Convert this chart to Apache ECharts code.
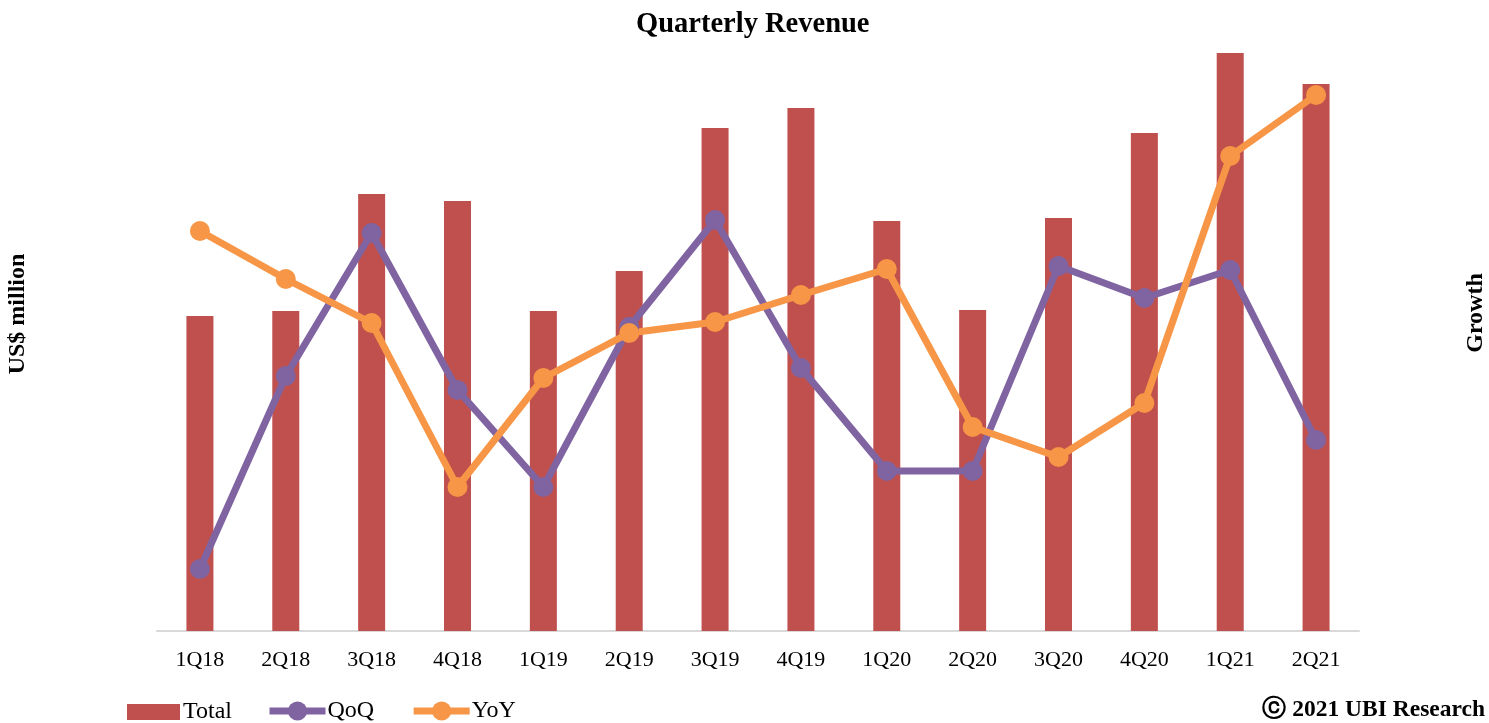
<!DOCTYPE html>
<html><head><meta charset="utf-8">
<script src="https://cdn.jsdelivr.net/npm/echarts@6/dist/echarts.min.js"></script>
<style>html,body{margin:0;padding:0;background:#fff}#c{width:1489px;height:723px}</style>
</head><body><div id="c"></div>
<script>
const categories = ['1Q18','2Q18','3Q18','4Q18','1Q19','2Q19','3Q19','4Q19','1Q20','2Q20','3Q20','4Q20','1Q21','2Q21'];
const totalValues = [315, 320, 437, 430, 320, 360, 503, 523, 410, 321, 413, 498, 578, 547];
const qoqValues = [62, 255, 398, 241, 144, 304, 411, 263, 160, 160, 365, 333, 361, 191];
const yoyValues = [400, 352, 308, 144, 253, 298, 309, 336, 362, 204, 174, 228, 475, 536];

const serif = 'Liberation Serif, Times New Roman, serif';
const chart = echarts.init(document.getElementById('c'));
chart.setOption({
  animation: false,
  textStyle: {fontFamily: serif},
  title: {text: 'Quarterly Revenue', left: 631, top: 5,
    textStyle: {fontFamily: serif, fontSize: 28.5, fontWeight: 'bold', color: '#000'}},
  grid: {left: 157, width: 1202, top: 31, height: 600, outerBoundsMode: 'none'},
  legend: [
    {left: 127, top: 700, padding: 0, itemWidth: 53, itemHeight: 16, itemGap: 36,
      textStyle: {fontFamily: serif, fontSize: 24, color: '#000', padding: [0,0,0,-2]},
      data: [{name: 'Total', icon: 'rect'}]},
    {left: 266, top: 699, padding: 0, itemWidth: 56, itemHeight: 24, itemGap: 36,
      lineStyle: {width: 7},
      textStyle: {fontFamily: serif, fontSize: 24, color: '#000', padding: [0,0,0,-3]},
      data: [{name: 'QoQ'}, {name: 'YoY'}]}
  ],
  xAxis: {type: 'category', data: categories,
    axisLine: {lineStyle: {color: '#D9D9D9', width: 2}},
    axisTick: {show: false},
    axisLabel: {fontFamily: serif, fontSize: 22, color: '#000', margin: 18}},
  yAxis: [
    {type: 'value', min: 0, max: 600,
      axisLabel: {show: false}, axisLine: {show: false}, axisTick: {show: false}, splitLine: {show: false}},
    {type: 'value', min: 0, max: 600,
      axisLabel: {show: false}, axisLine: {show: false}, axisTick: {show: false}, splitLine: {show: false}}
  ],
  series: [
    {name: 'Total', type: 'bar', data: totalValues, barWidth: 27,
      itemStyle: {color: '#C0504D'}},
    {name: 'QoQ', type: 'line', yAxisIndex: 1, data: qoqValues, symbol: 'circle', symbolSize: 20,
      lineStyle: {color: '#8064A2', width: 7}, itemStyle: {color: '#8064A2'}},
    {name: 'YoY', type: 'line', yAxisIndex: 1, data: yoyValues, symbol: 'circle', symbolSize: 20,
      lineStyle: {color: '#F79646', width: 7}, itemStyle: {color: '#F79646'}}
  ],
  graphic: [
    {type: 'text', x: 18, y: 314, rotation: Math.PI / 2,
      style: {text: 'US$ million', fontFamily: serif, fontSize: 24, fontWeight: 'bold', fill: '#000',
        align: 'center', verticalAlign: 'middle'}},
    {type: 'text', x: 1476, y: 313, rotation: Math.PI / 2,
      style: {text: 'Growth', fontFamily: serif, fontSize: 24, fontWeight: 'bold', fill: '#000',
        align: 'center', verticalAlign: 'middle'}},
    {type: 'text', right: 4, top: 698,
      style: {text: 'ⓒ 2021 UBI Research', fontFamily: serif, fontSize: 23.5, fontWeight: 'bold', fill: '#000'}}
  ]
});
</script></body></html>
